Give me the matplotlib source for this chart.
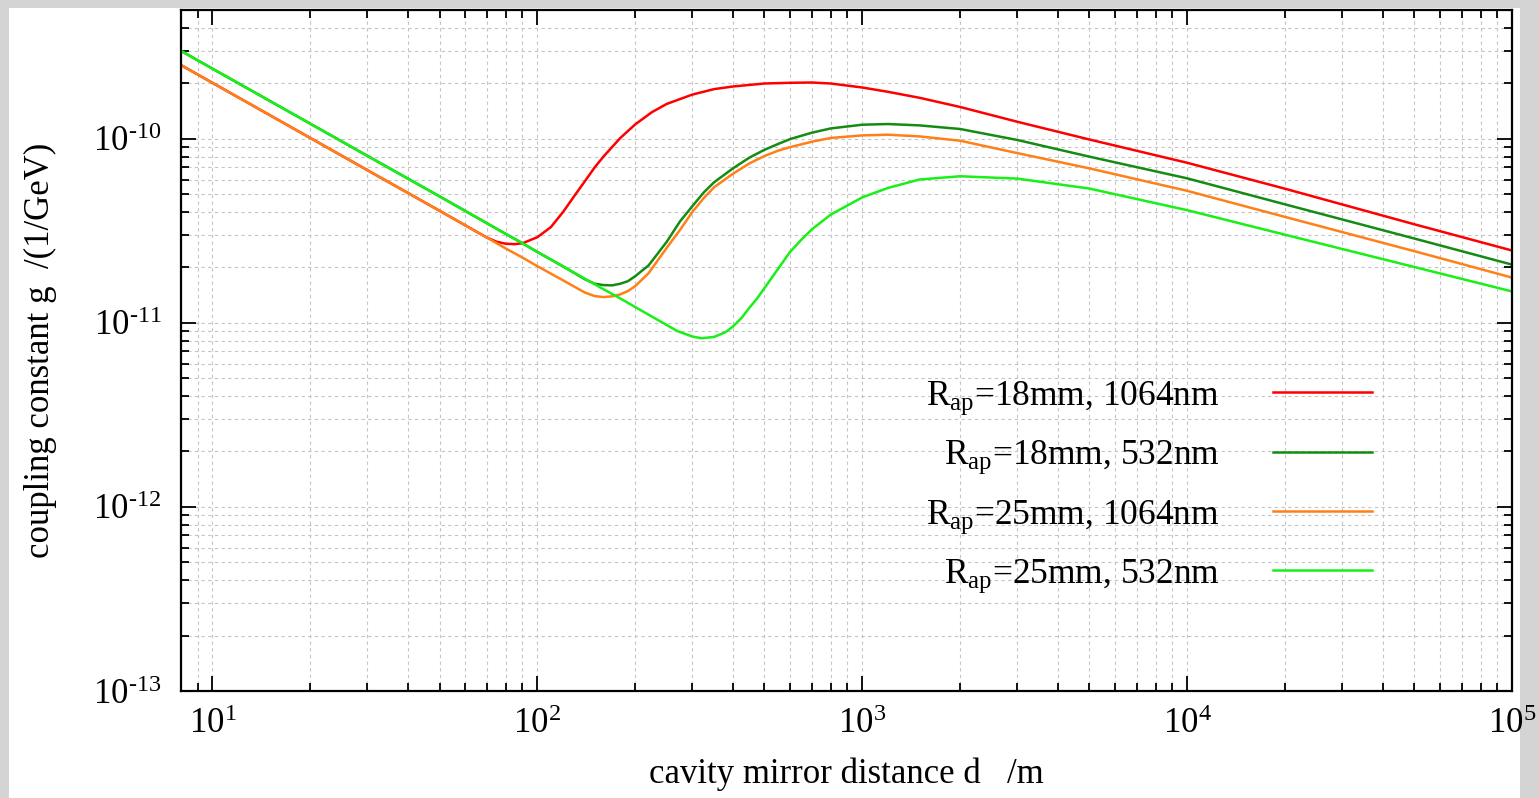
import numpy as np
import matplotlib
matplotlib.use("Agg")
import matplotlib.pyplot as plt
from matplotlib.patches import Rectangle
from matplotlib.ticker import LogLocator, FuncFormatter, NullFormatter

# fonts: Times-like serif, mathtext for the exponents
plt.rcParams['font.family'] = ['Liberation Serif', 'DejaVu Serif']
plt.rcParams['mathtext.fontset'] = 'custom'
plt.rcParams['mathtext.rm'] = 'Liberation Serif'
plt.rcParams['mathtext.it'] = 'Liberation Serif:italic'
plt.rcParams['mathtext.default'] = 'regular'

# data: cavity mirror distance d [m], coupling g [1/GeV]
d_r18_1064 = [8, 10, 20, 30, 50, 70, 75, 80, 85, 90, 100, 110, 120, 130, 140, 150, 160, 180,
              200, 225, 250, 300, 350, 400, 500, 600, 700, 800, 1000, 1200, 1500, 2000, 3000,
              5000, 1e4, 2e4, 5e4, 1e5]
g_r18_1064 = [2.51e-10, 2.01e-10, 1.009e-10, 6.74e-11, 4.06e-11, 2.90e-11, 2.754e-11, 2.687e-11,
              2.674e-11, 2.704e-11, 2.917e-11, 3.306e-11, 4.00e-11, 4.89e-11, 5.87e-11, 6.97e-11,
              8.02e-11, 1.009e-10, 1.195e-10, 1.392e-10, 1.544e-10, 1.736e-10, 1.859e-10,
              1.921e-10, 1.994e-10, 2.012e-10, 2.019e-10, 1.994e-10, 1.897e-10, 1.797e-10,
              1.668e-10, 1.487e-10, 1.236e-10, 9.90e-11, 7.40e-11, 5.35e-11, 3.43e-11, 2.47e-11]

d_r18_532 = [8, 10, 20, 30, 50, 70, 80, 90, 100, 120, 140, 150, 160, 170, 180, 190, 200, 220,
             250, 275, 300, 325, 350, 400, 450, 500, 550, 600, 700, 800, 1000, 1200, 1500,
             2000, 3000, 5000, 1e4, 2e4, 5e4, 1e5]
g_r18_532 = [3.00e-10, 2.40e-10, 1.206e-10, 8.06e-11, 4.86e-11, 3.47e-11, 3.036e-11, 2.704e-11,
             2.425e-11, 2.024e-11, 1.725e-11, 1.63e-11, 1.602e-11, 1.597e-11, 1.63e-11, 1.683e-11,
             1.79e-11, 2.05e-11, 2.75e-11, 3.56e-11, 4.30e-11, 5.10e-11, 5.80e-11, 6.90e-11,
             7.90e-11, 8.70e-11, 9.35e-11, 9.95e-11, 1.078e-10, 1.137e-10, 1.191e-10, 1.201e-10,
             1.181e-10, 1.129e-10, 9.84e-11, 7.99e-11, 6.09e-11, 4.40e-11, 2.87e-11, 2.07e-11]

d_r25_1064 = [8, 10, 20, 30, 50, 70, 80, 90, 100, 120, 140, 150, 160, 170, 180, 190, 200, 220,
              250, 275, 300, 325, 350, 400, 450, 500, 550, 600, 700, 800, 1000, 1200, 1500,
              2000, 3000, 5000, 1e4, 2e4, 5e4, 1e5]
g_r25_1064 = [2.51e-10, 2.01e-10, 1.009e-10, 6.74e-11, 4.06e-11, 2.90e-11, 2.53e-11, 2.26e-11,
              2.03e-11, 1.70e-11, 1.46e-11, 1.397e-11, 1.379e-11, 1.392e-11, 1.427e-11,
              1.487e-11, 1.58e-11, 1.86e-11, 2.55e-11, 3.20e-11, 4.00e-11, 4.75e-11, 5.45e-11,
              6.45e-11, 7.35e-11, 8.05e-11, 8.60e-11, 9.00e-11, 9.63e-11, 1.009e-10, 1.042e-10,
              1.051e-10, 1.029e-10, 9.75e-11, 8.35e-11, 6.90e-11, 5.21e-11, 3.76e-11, 2.45e-11,
              1.76e-11]

d_r25_532 = [8, 10, 20, 30, 50, 70, 80, 90, 100, 120, 140, 160, 180, 200, 250, 270, 300, 320,
             350, 380, 400, 425, 450, 475, 500, 550, 600, 650, 700, 800, 1000, 1200, 1500, 2000,
             3000, 5000, 1e4, 2e4, 5e4, 1e5]
g_r25_532 = [3.00e-10, 2.40e-10, 1.206e-10, 8.06e-11, 4.86e-11, 3.47e-11, 3.036e-11, 2.704e-11,
             2.425e-11, 2.024e-11, 1.736e-11, 1.519e-11, 1.356e-11, 1.218e-11, 9.73e-12, 9.01e-12,
             8.42e-12, 8.24e-12, 8.38e-12, 8.90e-12, 9.55e-12, 1.062e-11, 1.21e-11, 1.358e-11,
             1.544e-11, 1.957e-11, 2.43e-11, 2.83e-11, 3.22e-11, 3.87e-11, 4.80e-11, 5.40e-11,
             6.00e-11, 6.25e-11, 6.07e-11, 5.36e-11, 4.09e-11, 3.01e-11, 2.01e-11, 1.48e-11]

labels = [r'R$_{ap}$=18mm, 1064nm', r'R$_{ap}$=18mm, 532nm',
          r'R$_{ap}$=25mm, 1064nm', r'R$_{ap}$=25mm, 532nm']
colors = ['#ff0000', '#148c14', '#ff8018', '#18f018']


def pow10(v, pos):
    e = int(round(np.log10(v)))
    return '$10^{%s}$' % str(e).replace('-', '\u2010')


fig = plt.figure(figsize=(15.39, 7.98), dpi=100, facecolor='#d4d4d4')
# white sheet inside the grey screenshot frame
fig.patches.append(Rectangle((9 / 1539, 0), (1520 - 9) / 1539, 790 / 798,
                             transform=fig.transFigure, facecolor='white',
                             edgecolor='none', zorder=-10))
ax = fig.add_axes([181 / 1539, 1 - 691 / 798, (1512 - 181) / 1539, (691 - 10) / 798])

series = [(d_r18_1064, g_r18_1064), (d_r18_532, g_r18_532),
          (d_r25_1064, g_r25_1064), (d_r25_532, g_r25_532)]
for (d, g), lab, c in zip(series, labels, colors):
    ax.plot(d, g, color=c, lw=1.8, label=lab)

ax.set_xscale('log')
ax.set_yscale('log')
ax.set_xlim(8, 1e5)
ax.set_ylim(1e-13, 5e-10)

ax.xaxis.set_major_locator(LogLocator(base=10, numticks=10))
ax.xaxis.set_minor_locator(LogLocator(base=10, subs=np.arange(2, 10), numticks=20))
ax.yaxis.set_major_locator(LogLocator(base=10, numticks=10))
ax.yaxis.set_minor_locator(LogLocator(base=10, subs=np.arange(2, 10), numticks=20))
ax.xaxis.set_major_formatter(FuncFormatter(pow10))
ax.yaxis.set_major_formatter(FuncFormatter(pow10))
ax.xaxis.set_minor_formatter(NullFormatter())
ax.yaxis.set_minor_formatter(NullFormatter())

ax.grid(True, which='both', color='#c4c4c4', lw=0.8, ls=(0, (3, 3)))
ax.set_axisbelow(True)
ax.tick_params(which='both', direction='in', top=True, right=True, width=1.3)
ax.tick_params(which='major', length=11, labelsize=25)
ax.tick_params(axis='x', which='major', pad=12)
ax.tick_params(axis='y', which='major', pad=14)
ax.tick_params(which='minor', length=5.5)
for s in ax.spines.values():
    s.set_linewidth(1.6)

ax.set_xlabel('cavity mirror distance d   /m', fontsize=25, labelpad=12)
ax.set_ylabel('coupling constant g  /(1/GeV)', fontsize=25, labelpad=26)

ax.legend(loc='upper right', bbox_to_anchor=(0.895, 0.458), frameon=False,
          markerfirst=False, fontsize=25.5, handlelength=2.8, handletextpad=1.5,
          labelspacing=0.62, borderaxespad=0, borderpad=0)

fig.savefig('out.png', dpi=100, facecolor=fig.get_facecolor())
